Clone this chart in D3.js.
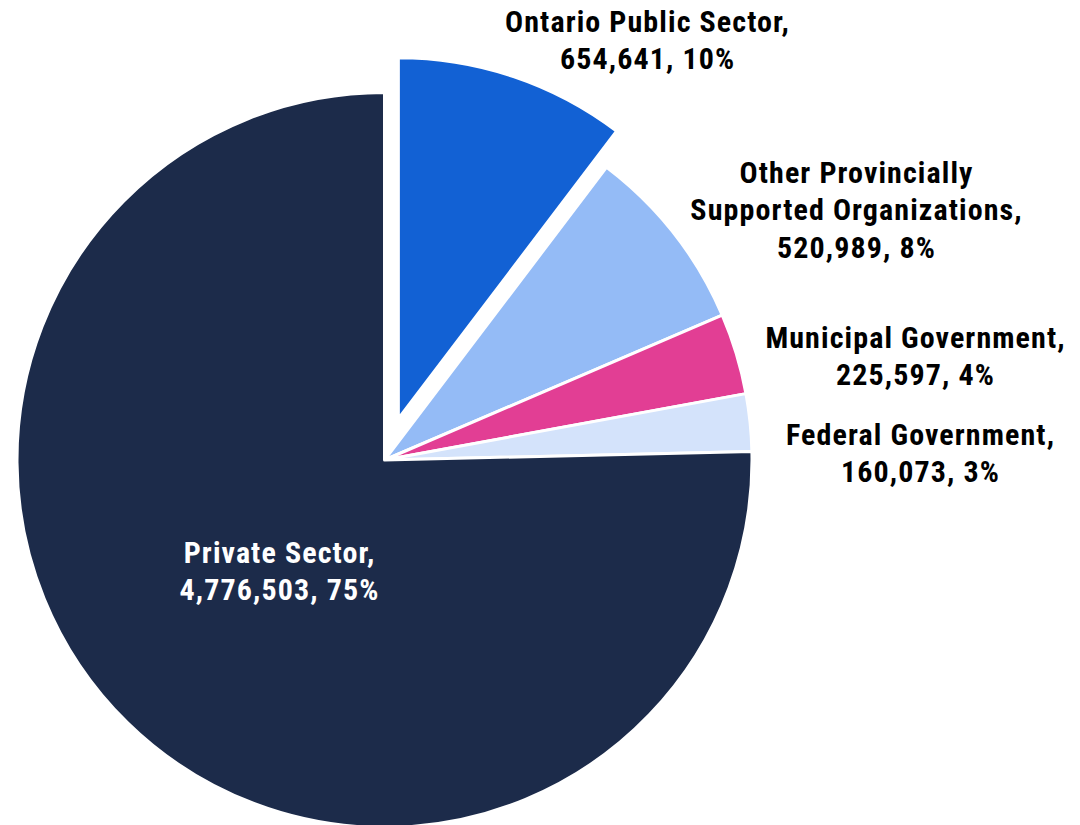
<!DOCTYPE html>
<html>
<head>
<meta charset="utf-8">
<script src="https://cdn.jsdelivr.net/npm/d3@7"></script>
<style>
html,body{margin:0;padding:0;background:#fff;}
svg{display:block;}
text{font-family:"Liberation Sans Narrow","Roboto Condensed","Arial Narrow",sans-serif;font-weight:bold;}
</style>
</head>
<body>
<svg id="chart" width="1080" height="825"></svg>
<script>
const categories = ["Ontario Public Sector", "Other Provincially Supported Organizations", "Municipal Government", "Federal Government", "Private Sector"];
const values = [654641, 520989, 225597, 160073, 4776503];
const percentLabels = ["10%", "8%", "4%", "3%", "75%"];
const labelLines = [
  ["Ontario Public Sector,", "654,641, 10%"],
  ["Other Provincially", "Supported Organizations,", "520,989, 8%"],
  ["Municipal Government,", "225,597, 4%"],
  ["Federal Government,", "160,073, 3%"],
  ["Private Sector,", "4,776,503, 75%"]
];
const colors = ["#1261D4", "#94BBF6", "#E23E94", "#D4E3FB", "#1C2B4A"];

// layout
const cx = 384.5, cy = 460, R = 367.5;
const explode = [43.5, 0, 0, 0, 0];
const explodeR = [361, R, R, R, R];
const labelPos = [[647, 21], [856, 172], [915, 337], [920, 434], [279, 552]];
const labelColor = ["#000", "#000", "#000", "#000", "#fff"];
const lineH = 37.5;
const fontSize = 30;
const letterSp = 1.1;

const svg = d3.select("#chart");
const g = svg.append("g").attr("transform", `translate(${cx},${cy})`);
const pie = d3.pie().sort(null).value(d => d)(values);

g.selectAll("path").data(pie).enter().append("path")
  .attr("d", (d, i) => d3.arc().innerRadius(0).outerRadius(explodeR[i])(d))
  .attr("transform", (d, i) => {
    const a = (d.startAngle + d.endAngle) / 2;
    return `translate(${explode[i] * Math.sin(a)},${-explode[i] * Math.cos(a)})`;
  })
  .attr("fill", (d, i) => colors[i])
  .attr("stroke", "#fff")
  .attr("stroke-width", 3)
  .attr("stroke-linejoin", "round");

labelLines.forEach((lines, i) => {
  const t = svg.append("text")
    .attr("text-anchor", "middle")
    .attr("fill", labelColor[i])
    .attr("font-size", fontSize)
    .attr("letter-spacing", letterSp);
  lines.forEach((ln, j) => {
    t.append("tspan")
      .attr("x", labelPos[i][0] + letterSp / 2)
      .attr("y", labelPos[i][1] + j * lineH)
      .attr("dominant-baseline", "central")
      .text(ln);
  });
});
</script>
</body>
</html>
